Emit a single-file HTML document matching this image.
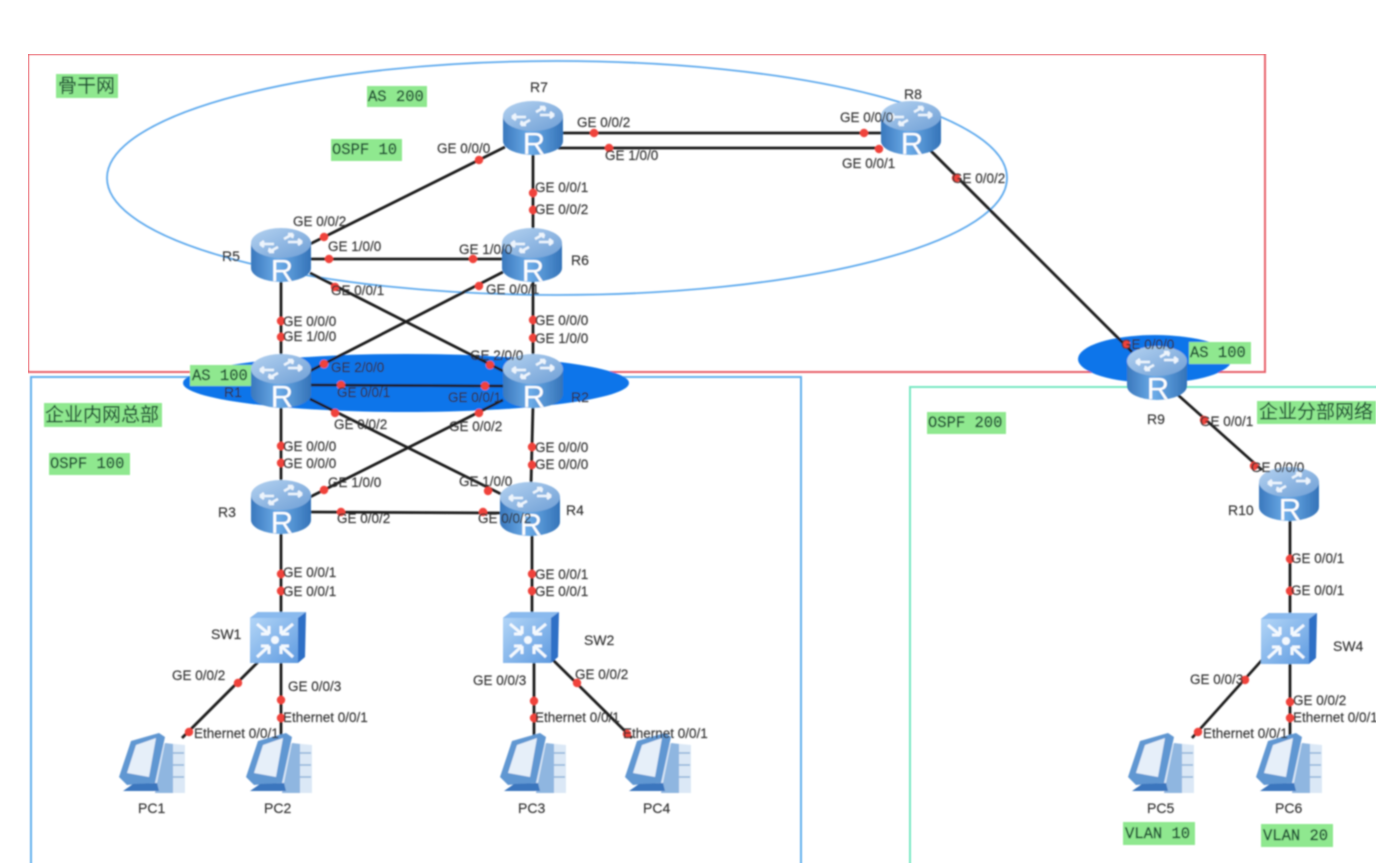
<!DOCTYPE html>
<html><head><meta charset="utf-8"><style>
html,body{margin:0;padding:0;background:#fff;width:1376px;height:863px;overflow:hidden}
svg{display:block}
.t text{font:13.5px "Liberation Sans",sans-serif;fill:#303030;stroke:#303030;stroke-width:.15}
.t text.n{font-size:14px}
.g{fill:#8fe88f}
.m{font:15.5px "Liberation Mono",monospace;fill:#1f5236;stroke:#1f5236;stroke-width:.4}
.c{font:19px "Liberation Sans","Noto Sans CJK SC",sans-serif;fill:#1f5236;stroke:#1f5236;stroke-width:.2}
.r{font:31px "Liberation Sans",sans-serif;fill:#fff;text-anchor:middle}
.l line{stroke:#1c1c1c;stroke-width:2.8}
.d circle{fill:#f0433a;r:4.2px}
</style></head><body>
<svg width="1376" height="863" viewBox="0 0 1376 863" xmlns="http://www.w3.org/2000/svg">
<defs>
<linearGradient id="rb" x1="0" x2="1" y1="0" y2="0"><stop offset="0" stop-color="#3a78bd"/><stop offset=".45" stop-color="#6cace8"/><stop offset="1" stop-color="#3473b8"/></linearGradient>
<linearGradient id="rt" x1="0" x2="1" y1="0" y2="1"><stop offset="0" stop-color="#b4d2f0"/><stop offset="1" stop-color="#6f9fd6"/></linearGradient>
<linearGradient id="sf" x1="0" x2="1" y1="0" y2="1"><stop offset="0" stop-color="#b2d5f7"/><stop offset="1" stop-color="#5f9be0"/></linearGradient>
<filter id="b" x="0" y="0" width="100%" height="100%"><feGaussianBlur stdDeviation="0.7"/></filter>
<g id="router">
<path d="M-30-12V13A30 14 0 0 0 30 13V-12Z" fill="url(#rb)"/>
<ellipse cx="0" cy="-12" rx="30" ry="15" fill="url(#rt)"/>
<g stroke="#eef5fd" stroke-width="2.6" fill="none">
<path d="M-21-11H-7M-21-11l4-3M-21-11l4 3M21-13H7M21-13l-4-3M21-13l-4 3M-12-3L-3-8M-12-3l5 0M-12-3l1-4M12-21L3-16M12-21l-5 0M12-21l-1 4"/>
</g>
</g>
<g id="sw">
<path d="M-28-19L-20-25H28L27 20L20 26V-19Z" fill="#2f70c6"/>
<path d="M-28-19L-20-25H28L20-19Z" fill="#8abaee"/>
<rect x="-28" y="-19" width="48" height="45" fill="url(#sf)"/>
<g stroke="#f4f9fe" stroke-width="3" fill="none">
<path d="M-21-13L-9-3M-9-3h-8M-9-3v-8M15-13L3-3M3-3h8M3-3v-8M-21 20L-9 9M-9 9h-8M-9 9v8M15 20L3 9M3 9h8M3 9v8"/>
</g>
<circle cx="-3" cy="3" r="4" fill="#f4f9fe"/>
</g>
<g id="pc">
<path d="M14-22L34-20V28H4L2-12Z" fill="#dbe8f6"/>
<path d="M14-22L22-21V28H4Z" fill="#8fb6e0"/>
<path d="M-32 12L-20-24L8-32L14-28L4 18L-24 20Z" fill="#6197d2"/>
<path d="M-24 8L-15-20L5-27L-2 12Z" fill="#e6eff9"/>
<path d="M-18 19L6 18L8 26H-28Z" fill="#3a76be"/>
<path d="M22-12H33M22 0H33M22 12H33" stroke="#8fb2d8" stroke-width="1.5"/>
</g>
</defs>
<rect width="1376" height="863" fill="#fff"/>
<g filter="url(#b)">
<rect x="28" y="54" width="1237" height="318" fill="none" stroke="#e8606a" stroke-width="2"/>
<rect x="31" y="377" width="770" height="490" fill="none" stroke="#62b0ee" stroke-width="2"/>
<rect x="910" y="387" width="480" height="480" fill="none" stroke="#78e8c2" stroke-width="2"/>
<ellipse cx="557" cy="178" rx="450" ry="117" fill="none" stroke="#5faaee" stroke-width="1.8"/>
<ellipse cx="406" cy="383" rx="223" ry="29" fill="#0a74ea"/>
<ellipse cx="1155" cy="359" rx="77" ry="24" fill="#0a74ea"/>

<rect class="g" x="56" y="74" width="62" height="24"/>
<rect class="g" x="367" y="86" width="60" height="21"/>
<rect class="g" x="331" y="139" width="71" height="22"/>
<rect class="g" x="190" y="365" width="62" height="21"/>
<rect class="g" x="44" y="403" width="118" height="24"/>
<rect class="g" x="49" y="453" width="81" height="22"/>
<rect class="g" x="1189" y="342" width="62" height="22"/>
<rect class="g" x="1257" y="401" width="119" height="23"/>
<rect class="g" x="927" y="412" width="79" height="22"/>
<rect class="g" x="1123" y="822" width="72" height="23"/>
<rect class="g" x="1261" y="824" width="72" height="23"/>
<text class="c" x="58" y="92">骨干网</text>
<text class="c" x="45" y="421">企业内网总部</text>
<text class="c" x="1259" y="418">企业分部网络</text>
<text class="m" x="368" y="101">AS 200</text>
<text class="m" x="332" y="154">OSPF 10</text>
<text class="m" x="192" y="380">AS 100</text>
<text class="m" x="50" y="468">OSPF 100</text>
<text class="m" x="1190" y="357">AS 100</text>
<text class="m" x="928" y="427">OSPF 200</text>
<text class="m" x="1125" y="838">VLAN 10</text>
<text class="m" x="1263" y="840">VLAN 20</text>

<g class="l">
<line x1="505" y1="147" x2="310" y2="244"/>
<line x1="533" y1="150" x2="533" y2="232"/>
<line x1="560" y1="133" x2="885" y2="133"/>
<line x1="558" y1="148" x2="882" y2="148"/>
<line x1="930" y1="150" x2="1132" y2="352"/>
<line x1="310" y1="259" x2="503" y2="259"/>
<line x1="281" y1="280" x2="281" y2="358"/>
<line x1="533" y1="280" x2="533" y2="358"/>
<line x1="310" y1="273" x2="503" y2="371"/>
<line x1="503" y1="272" x2="310" y2="371"/>
<line x1="310" y1="385" x2="503" y2="386"/>
<line x1="281" y1="405" x2="281" y2="485"/>
<line x1="533" y1="405" x2="531" y2="485"/>
<line x1="310" y1="399" x2="503" y2="495"/>
<line x1="503" y1="400" x2="310" y2="497"/>
<line x1="310" y1="512" x2="503" y2="513"/>
<line x1="281" y1="530" x2="281" y2="615"/>
<line x1="532" y1="530" x2="532" y2="615"/>
<line x1="262" y1="658" x2="182" y2="738"/>
<line x1="281" y1="660" x2="281" y2="740"/>
<line x1="534" y1="660" x2="534" y2="740"/>
<line x1="553" y1="660" x2="632" y2="738"/>
<line x1="1178" y1="395" x2="1262" y2="470"/>
<line x1="1290" y1="515" x2="1290" y2="615"/>
<line x1="1262" y1="660" x2="1192" y2="738"/>
<line x1="1290" y1="660" x2="1290" y2="740"/>
</g>

<use href="#router" x="533" y="128"/><text class="r" x="534" y="154">R</text>
<use href="#router" x="911" y="128"/><text class="r" x="912" y="154">R</text>
<use href="#router" x="281" y="255"/><text class="r" x="282" y="281">R</text>
<use href="#router" x="532" y="255"/><text class="r" x="533" y="281">R</text>
<use href="#router" x="281" y="381"/><text class="r" x="282" y="407">R</text>
<use href="#router" x="533" y="381"/><text class="r" x="534" y="407">R</text>
<use href="#router" x="281" y="507"/><text class="r" x="282" y="533">R</text>
<use href="#router" x="530" y="509"/><text class="r" x="531" y="535">R</text>
<use href="#router" x="1157" y="373"/><text class="r" x="1158" y="399">R</text>
<use href="#router" x="1289" y="494"/><text class="r" x="1290" y="520">R</text>

<use href="#sw" x="278" y="637"/>
<use href="#sw" x="531" y="637"/>
<use href="#sw" x="1289" y="638"/>
<use href="#pc" x="151" y="765"/>
<use href="#pc" x="278" y="765"/>
<use href="#pc" x="532" y="765"/>
<use href="#pc" x="657" y="765"/>
<use href="#pc" x="1160" y="765"/>
<use href="#pc" x="1288" y="765"/>

<g class="d">
<circle cx="479" cy="160"/><circle cx="324" cy="237"/><circle cx="533" cy="193"/><circle cx="533" cy="210"/>
<circle cx="594" cy="133"/><circle cx="864" cy="133"/><circle cx="609" cy="148"/><circle cx="879" cy="149"/>
<circle cx="956" cy="178"/><circle cx="1126" cy="344"/><circle cx="329" cy="259"/><circle cx="473" cy="259"/>
<circle cx="281" cy="321"/><circle cx="281" cy="337"/><circle cx="533" cy="320"/><circle cx="533" cy="338"/>
<circle cx="335" cy="287"/><circle cx="490" cy="365"/><circle cx="479" cy="286"/><circle cx="324" cy="364"/>
<circle cx="341" cy="385"/><circle cx="485" cy="386"/><circle cx="281" cy="446"/><circle cx="281" cy="463"/>
<circle cx="532" cy="447"/><circle cx="532" cy="465"/><circle cx="335" cy="413"/><circle cx="488" cy="491"/>
<circle cx="479" cy="413"/><circle cx="324" cy="490"/><circle cx="341" cy="512"/><circle cx="483" cy="512"/>
<circle cx="281" cy="574"/><circle cx="281" cy="591"/><circle cx="532" cy="574"/><circle cx="532" cy="591"/>
<circle cx="238" cy="683"/><circle cx="189" cy="732"/><circle cx="281" cy="700"/><circle cx="281" cy="718"/>
<circle cx="534" cy="701"/><circle cx="534" cy="718"/><circle cx="577" cy="683"/><circle cx="627" cy="734"/>
<circle cx="1204" cy="420"/><circle cx="1254" cy="466"/><circle cx="1290" cy="559"/><circle cx="1290" cy="591"/>
<circle cx="1245" cy="680"/><circle cx="1198" cy="732"/><circle cx="1290" cy="702"/><circle cx="1290" cy="718"/>
</g>

<g class="t">
<text class="n" x="530" y="92">R7</text><text class="n" x="904" y="99">R8</text><text class="n" x="222" y="261">R5</text><text class="n" x="571" y="265">R6</text>
<text class="n" x="224" y="397">R1</text><text class="n" x="571" y="402">R2</text><text class="n" x="218" y="517">R3</text><text class="n" x="566" y="515">R4</text>
<text class="n" x="1147" y="424">R9</text><text class="n" x="1228" y="515">R10</text>
<text class="n" x="211" y="639">SW1</text><text class="n" x="584" y="645">SW2</text><text class="n" x="1333" y="651">SW4</text>
<text class="n" x="138" y="813">PC1</text><text class="n" x="264" y="813">PC2</text><text class="n" x="518" y="813">PC3</text><text class="n" x="643" y="813">PC4</text><text class="n" x="1147" y="813">PC5</text><text class="n" x="1275" y="813">PC6</text>

<text x="437" y="153">GE 0/0/0</text><text x="535" y="192">GE 0/0/1</text><text x="535" y="214">GE 0/0/2</text>
<text x="577" y="127">GE 0/0/2</text><text x="605" y="160">GE 1/0/0</text><text x="840" y="122">GE 0/0/0</text><text x="842" y="168">GE 0/0/1</text><text x="952" y="183">GE 0/0/2</text>
<text x="293" y="226">GE 0/0/2</text><text x="328" y="251">GE 1/0/0</text><text x="459" y="254">GE 1/0/0</text>
<text x="331" y="295">GE 0/0/1</text><text x="486" y="294">GE 0/0/1</text>
<text x="283" y="326">GE 0/0/0</text><text x="283" y="341">GE 1/0/0</text><text x="535" y="325">GE 0/0/0</text><text x="535" y="343">GE 1/0/0</text>
<text x="331" y="372">GE 2/0/0</text><text x="470" y="360">GE 2/0/0</text>
<text x="337" y="397">GE 0/0/1</text><text x="448" y="402">GE 0/0/1</text>
<text x="334" y="429">GE 0/0/2</text><text x="449" y="431">GE 0/0/2</text>
<text x="283" y="451">GE 0/0/0</text><text x="283" y="468">GE 0/0/0</text><text x="535" y="452">GE 0/0/0</text><text x="535" y="469">GE 0/0/0</text>
<text x="328" y="487">GE 1/0/0</text><text x="459" y="486">GE 1/0/0</text>
<text x="337" y="523">GE 0/0/2</text><text x="478" y="523">GE 0/0/2</text>
<text x="283" y="577">GE 0/0/1</text><text x="283" y="596">GE 0/0/1</text><text x="535" y="579">GE 0/0/1</text><text x="535" y="596">GE 0/0/1</text>
<text x="172" y="680">GE 0/0/2</text><text x="288" y="691">GE 0/0/3</text>
<text x="283" y="722">Ethernet 0/0/1</text><text x="194" y="738">Ethernet 0/0/1</text>
<text x="473" y="685">GE 0/0/3</text><text x="575" y="679">GE 0/0/2</text>
<text x="535" y="722">Ethernet 0/0/1</text><text x="623" y="738">Ethernet 0/0/1</text>
<text x="1121" y="349">GE 0/0/0</text><text x="1200" y="426">GE 0/0/1</text><text x="1251" y="472">GE 0/0/0</text>
<text x="1291" y="563">GE 0/0/1</text><text x="1291" y="595">GE 0/0/1</text>
<text x="1190" y="684">GE 0/0/3</text><text x="1293" y="705">GE 0/0/2</text>
<text x="1293" y="722">Ethernet 0/0/1</text><text x="1203" y="738">Ethernet 0/0/1</text>
</g>
</g>
</svg>
</body></html>
